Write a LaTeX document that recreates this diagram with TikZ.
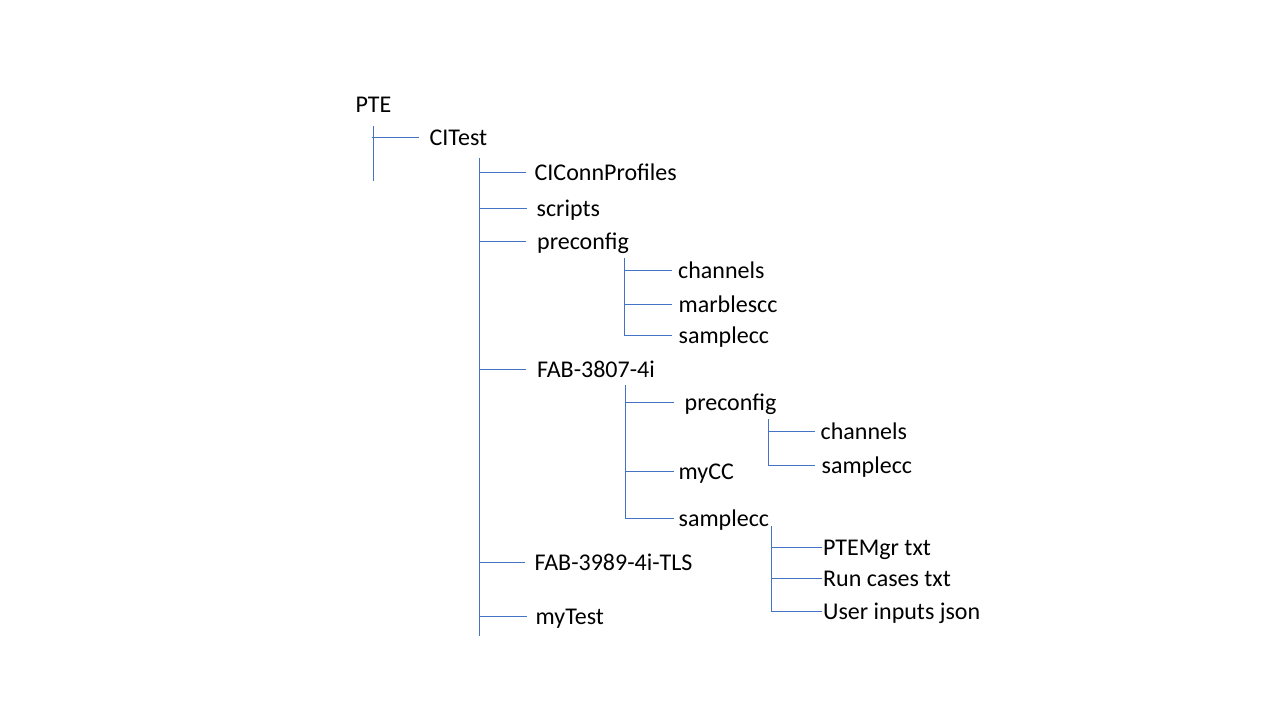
\documentclass[tikz,border=0pt]{standalone}
\usepackage{fontspec}
\setmainfont{Carlito}
\usepackage{xcolor}
\usetikzlibrary{positioning}
\tikzset{every picture/.style={line width=1.3pt}}
\definecolor{linkblue}{RGB}{68,114,196}
\tikzset{
  item/.style={anchor=west, inner xsep=#1, inner ysep=0pt, text height=16pt, text depth=0pt,
    font=\fontsize{24}{28}\selectfont},
  item/.default=5pt,
  link/.style={draw=linkblue}
}
\begin{document}
\begin{tikzpicture}[x=1pt,y=-1pt]
\useasboundingbox (0,0) rectangle (1280,720);
% root
\node[item=3pt] (pte) at (352,104) {PTE};
\node[item=10pt] (ci) at (419,137.5) {CITest};
\coordinate (rtop) at (373.5,126);
\coordinate (rbot) at (373.5,181);
\draw[link] (rtop) -- (rbot);
\draw[link] (rtop |- ci.west) ++(-2,0) -- (ci.west);
%
% CITest children
\node[item=8pt] (ccp) at (526,172.5) {CIConnProfiles};
\node[item=9pt] (scr) at (527,208.5) {scripts};
\node[item=10.5pt] (pre) at (526,241.5) {preconfig};
\node[item=10.5pt] (fab1) at (526,369.5) {FAB-3807-4i};
\node[item=9pt] (fab2) at (525,562.5) {FAB-3989-4i-TLS};
\node[item=8pt] (myt) at (527,616.5) {myTest};
\coordinate (atop) at (479.5,158);
\coordinate (abot) at (479.5,636);
\draw[link] (atop) -- (abot);
\draw[link] (atop |- ccp.west) -- (ccp.west);
\draw[link] (atop |- scr.west) -- (scr.west);
\draw[link] (atop |- pre.west) -- (pre.west);
\draw[link] (atop |- fab1.west) -- (fab1.west);
\draw[link] (atop |- fab2.west) -- (fab2.west);
\draw[link] (atop |- myt.west) -- (myt.west);
%
% preconfig children
\node[item=5.5pt] (ch1) at (672,270.5) {channels};
\node[item=6pt] (mar) at (672,304.5) {marblescc};
\node[item=6pt] (smp1) at (672,335.5) {samplecc};
\coordinate (btop) at (624.5,258);
\draw[link] (btop) -- (btop |- smp1.west) -- (smp1.west);
\draw[link] (btop |- ch1.west) -- (ch1.west);
\draw[link] (btop |- mar.west) -- (mar.west);
%
% FAB-3807-4i children
\node[item=10pt] (pre2) at (674,402.5) {preconfig};
\node[item=4pt] (mycc) at (674,471.5) {myCC};
\node[item=4pt] (smp2) at (674,518.5) {samplecc};
\coordinate (ctop) at (625.5,385);
\draw[link] (ctop) -- (ctop |- smp2.west) -- (smp2.west);
\draw[link] (ctop |- pre2.west) -- (pre2.west);
\draw[link] (ctop |- mycc.west) -- (mycc.west);
%
\node[item] (ch2) at (815,431.5) {channels};
\node[item=6pt] (smp3) at (815,465.5) {samplecc};
\coordinate (dtop) at (768.5,419);
\draw[link] (dtop) -- (dtop |- smp3.west) -- (smp3.west);
\draw[link] (dtop |- ch2.west) -- (ch2.west);
%
% samplecc children
\node[item=0.5pt] (ptm) at (822,547.5) {PTEMgr txt};
\node[item=0.5pt] (run) at (822,578.5) {Run cases txt};
\node[item=0.5pt] (usr) at (822,611.5) {User inputs json};
\coordinate (etop) at (771.5,526);
\draw[link] (etop) -- (etop |- usr.west) -- (usr.west);
\draw[link] (etop |- ptm.west) -- (ptm.west);
\draw[link] (etop |- run.west) -- (run.west);
\end{tikzpicture}
\end{document}
